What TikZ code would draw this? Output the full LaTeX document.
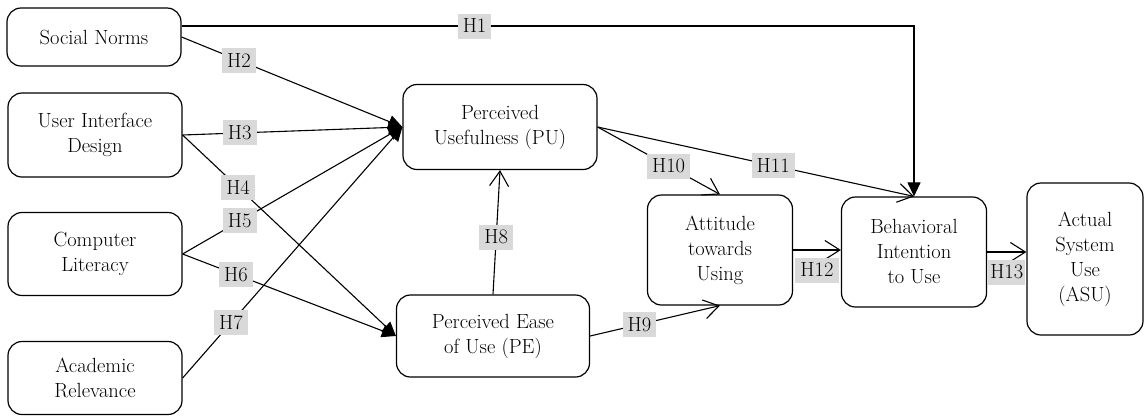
\documentclass[tikz,border=0pt]{standalone}
\usetikzlibrary{arrows.meta}

\tikzset{
  construct/.style={draw,line width=1.2pt,rounded corners=14pt,align=center,font=\fontsize{20.5}{25}\selectfont},
  hlab/.style={fill=black!15,inner xsep=5pt,inner ysep=2pt,minimum height=25pt,text height=13.5pt,text depth=0pt,font=\fontsize{20.5}{22}\selectfont},
  fat/.style={line width=1.1pt,-{Triangle[length=14pt,width=13pt]}},
  barb/.style={line width=1.1pt,-{Straight Barb[length=15pt,width=19pt]}}
}

\begin{document}
\begin{tikzpicture}
  [x=1pt,y=-1pt]
  \useasboundingbox (0,0) rectangle (1148,416);
  % antecedents
  \node[construct,minimum width=174pt,minimum height=58pt] (sn) at (94,37) {Social Norms};
  \node[construct,minimum width=174pt,minimum height=84pt] (uid) at (95,135) {User Interface\\Design};
  \node[construct,minimum width=174pt,minimum height=83pt] (cl) at (95,254) {Computer\\Literacy};
  \node[construct,minimum width=174pt,minimum height=73pt] (ar) at (95,378) {Academic\\Relevance};
  % TAM constructs
  \node[construct,minimum width=194pt,minimum height=85pt] (pu) at (500,127) {Perceived\\Usefulness (PU)};
  \node[construct,minimum width=193pt,minimum height=82pt] (pe) at (493,336) {Perceived Ease\\of Use (PE)};
  \node[construct,minimum width=145pt,minimum height=110pt] (att) at (720,250) {Attitude\\towards\\Using};
  \node[construct,minimum width=145pt,minimum height=110pt] (bi) at (914,252) {Behavioral\\Intention\\to Use};
  \node[construct,minimum width=116pt,minimum height=152pt] (asu) at (1085,259) {Actual\\System\\Use\\(ASU)};

  \draw[fat] ([yshift=11pt]sn.east) -| node[hlab,pos=.2]{H1} (bi.north);
  \foreach \from/\to/\lab/\p in {sn.east/pu.west/H2/.26, uid.east/pu.west/H3/.26, uid.east/pe.west/H4/.26,
      cl.east/pu.west/H5/.26, cl.east/pe.west/H6/.25, ar.east/pu.west/H7/.22}
    \draw[fat] (\from) -- node[hlab,pos=\p]{\lab} (\to);
  \foreach \from/\to/\lab/\p in {pe.north/pu.south/H8/.46, pe.east/att.south/H9/.38,
      pu.east/att.north/H10/.58, pu.east/bi.north/H11/.555}
    \draw[barb] (\from) -- node[hlab,pos=\p]{\lab} (\to);
  \draw[barb] (att.east) -- node[hlab,below=7pt,midway]{H12} (att.east -| bi.west);
  \draw[barb] (bi.east) -- node[hlab,below=7pt,midway,inner xsep=2pt]{H13} (bi.east -| asu.west);
\end{tikzpicture}
\end{document}
